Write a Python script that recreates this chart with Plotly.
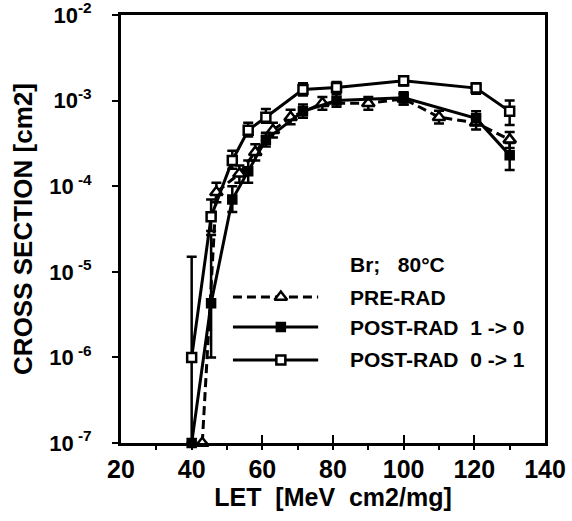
import plotly.graph_objects as go

# ---------------- data ----------------
let_post10 = [40, 45.5, 51.5, 56, 61, 71.5, 81, 100, 120.5, 130]
cs_post10 = [1e-7, 4.3e-6, 7.0e-5, 1.5e-4, 3.5e-4, 7.5e-4, 1.0e-3, 1.08e-3, 6.2e-4, 2.3e-4]
hi_post10 = [1e-7, 2.7e-5, 1.0e-4, 2.0e-4, 4.2e-4, 9.0e-4, 1.2e-3, 1.25e-3, 7.5e-4, 3.2e-4]
lo_post10 = [1e-7, 1.0e-6, 5.0e-5, 1.1e-4, 2.9e-4, 6.3e-4, 8.5e-4, 9.0e-4, 5.2e-4, 1.55e-4]

let_post01 = [40, 45.5, 51.5, 56, 61, 71.5, 81, 100, 120.5, 130]
cs_post01 = [1.0e-6, 4.4e-5, 2.0e-4, 4.5e-4, 6.4e-4, 1.35e-3, 1.42e-3, 1.7e-3, 1.4e-3, 7.5e-4]
hi_post01 = [1.5e-5, 7.0e-5, 2.6e-4, 5.5e-4, 8.0e-4, 1.6e-3, 1.65e-3, 1.85e-3, 1.6e-3, 1.0e-3]
lo_post01 = [1.0e-7, 3.0e-5, 1.6e-4, 3.8e-4, 5.5e-4, 1.15e-3, 1.25e-3, 1.5e-3, 1.2e-3, 5.2e-4]

let_pre = [43, 47, 53.5, 58, 63, 68, 77, 90, 100, 110, 120.5, 130]
cs_pre = [1e-7, 8.5e-5, 1.4e-4, 2.5e-4, 4.5e-4, 6.4e-4, 9.3e-4, 9.3e-4, 1.05e-3, 6.4e-4, 5.5e-4, 3.5e-4]
hi_pre = [1e-7, 1.1e-4, 1.75e-4, 3.1e-4, 5.5e-4, 7.8e-4, 1.1e-3, 1.1e-3, 1.2e-3, 7.6e-4, 6.5e-4, 4.3e-4]
lo_pre = [1e-7, 6.5e-5, 1.1e-4, 2.0e-4, 3.7e-4, 5.3e-4, 7.8e-4, 7.8e-4, 9.0e-4, 5.4e-4, 4.6e-4, 2.8e-4]

series_names = ["PRE-RAD", "POST-RAD\u00a0\u00a01 -> 0", "POST-RAD\u00a0\u00a00 -> 1"]
legend_title = "Br;\u00a0\u00a0\u00a080°C"

x_ticks = [20, 40, 60, 80, 100, 120, 140]
y_tickvals = [1e-7, 1e-6, 1e-5, 1e-4, 1e-3, 1e-2]
y_ticktext = ["10<sup> -7</sup>", "10<sup> -6</sup>", "10<sup> -5</sup>",
              "10<sup> -4</sup>", "10<sup>-3</sup>", "10<sup>-2</sup>"]

FONT = "Liberation Sans"

# legend box layout (fractions of the plot area)
LEG_X0, LEG_X1, LEG_XM = 0.264, 0.465, 0.377
LEG_ROWS = [0.341, 0.271, 0.194]
LEG_TEXT_X = 0.535
LEG_TITLE_Y = 0.416


def errs(v, hi, lo):
    return [h - c for c, h in zip(v, hi)], [c - l for c, l in zip(v, lo)]


styles = [
    (dict(symbol="triangle-up", size=11, color="white", line=dict(width=2.5, color="black")),
     dict(color="black", width=3, dash="9px,5px")),
    (dict(symbol="square", size=9, color="black", line=dict(width=1.5, color="black")),
     dict(color="black", width=3)),
    (dict(symbol="square", size=9, color="white", line=dict(width=2.5, color="black")),
     dict(color="black", width=3)),
]
data = [
    (let_pre, cs_pre, hi_pre, lo_pre),
    (let_post10, cs_post10, hi_post10, lo_post10),
    (let_post01, cs_post01, hi_post01, lo_post01),
]

fig = go.Figure()

for name, (xs, ys, hi, lo), (mk, ln) in zip(series_names, data, styles):
    plus, minus = errs(ys, hi, lo)
    fig.add_trace(go.Scatter(
        x=xs, y=ys, name=name, mode="lines+markers", showlegend=False,
        line=ln, marker=mk,
        error_y=dict(type="data", symmetric=False, array=plus, arrayminus=minus,
                     color="black", thickness=2.5, width=5),
        cliponaxis=False,
    ))

# legend samples drawn on a hidden overlay axis (long line samples as in the reference)
for name, row, (mk, ln) in zip(series_names, LEG_ROWS, styles):
    fig.add_trace(go.Scatter(x=[LEG_X0, LEG_X1], y=[row, row], mode="lines", line=ln,
                             xaxis="x2", yaxis="y2", showlegend=False, hoverinfo="skip"))
    fig.add_trace(go.Scatter(x=[LEG_XM], y=[row], mode="markers", marker=mk,
                             xaxis="x2", yaxis="y2", showlegend=False, hoverinfo="skip"))
    fig.add_annotation(text=name, xref="paper", yref="paper", x=LEG_TEXT_X, y=row,
                       xanchor="left", yanchor="middle", showarrow=False,
                       font=dict(family=FONT, size=21, color="black", weight="bold"))

fig.add_annotation(text=legend_title, xref="paper", yref="paper",
                   x=LEG_TEXT_X, y=LEG_TITLE_Y, xanchor="left", yanchor="middle", showarrow=False,
                   font=dict(family=FONT, size=21, color="black", weight="bold"))

fig.update_layout(
    width=572, height=521,
    margin=dict(l=121, r=27, t=15, b=78),
    paper_bgcolor="white", plot_bgcolor="white",
    font=dict(family=FONT, color="black"),
    showlegend=False,
    xaxis=dict(range=[20, 140], tickvals=x_ticks, ticks="inside", ticklen=8,
               tickwidth=2, tickcolor="black", automargin=False,
               minor=dict(dtick=10, ticks="outside", ticklen=4, tickwidth=2, tickcolor="black"),
               showline=True, linewidth=3, linecolor="black", mirror=True,
               showgrid=False, zeroline=False,
               tickfont=dict(family=FONT, size=25, color="black", weight="bold"),
               ticklabelstandoff=2, ticklabeloverflow="allow",
               title=dict(text="LET\u00a0\u00a0[MeV\u00a0\u00a0cm2/mg]", standoff=4,
                          font=dict(family=FONT, size=25, color="black", weight="bold"))),
    yaxis=dict(type="log", range=[-7, -2], tickvals=y_tickvals, ticktext=y_ticktext,
               ticks="outside", ticklen=6, tickwidth=2, tickcolor="black", automargin=False,
               showline=True, linewidth=3, linecolor="black", mirror=True,
               showgrid=False, zeroline=False,
               tickfont=dict(family=FONT, size=22, color="black", weight="bold"),
               ticklabelstandoff=16, ticklabeloverflow="allow",
               title=dict(text="CROSS SECTION [cm2]", standoff=10,
                          font=dict(family=FONT, size=26, color="black", weight="bold"))),
    xaxis2=dict(overlaying="x", anchor="y2", range=[0, 1], visible=False, fixedrange=True),
    yaxis2=dict(overlaying="y", anchor="x2", range=[0, 1], visible=False, fixedrange=True),
)

fig.write_html("out.html")
